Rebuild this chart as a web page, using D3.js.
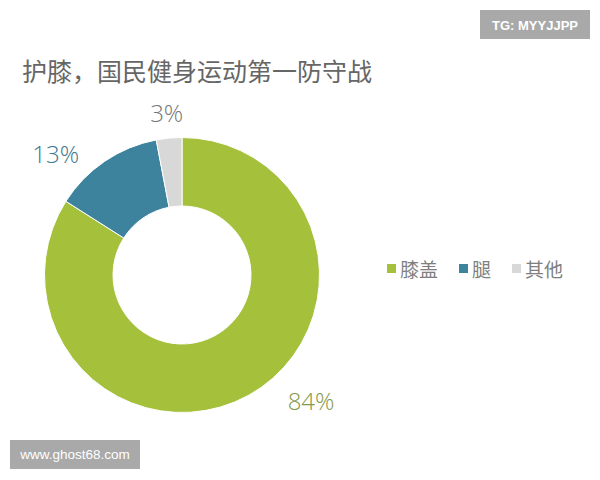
<!DOCTYPE html>
<html><head><meta charset="utf-8">
<script src="https://cdn.jsdelivr.net/npm/d3@7/dist/d3.min.js"></script>
<style>html,body{margin:0;padding:0;background:#fff;}svg{display:block;}</style>
</head><body>
<script>
const categories = ["膝盖", "腿", "其他"];
const values = [84, 13, 3];
const valueLabels = ["84%", "13%", "3%"];
const titleText = "护膝，国民健身运动第一防守战";
const watermarkTop = "TG: MYYJJPP";
const watermarkBottom = "www.ghost68.com";

const colors = ["#a5c03b", "#3d839e", "#d8d8d8"];
const labelColors = ["#84984a", "#41768d", "#777777"];
const labelAngleShift = [-17, -12, 0];   // degrees, layout tweak
const labelRadius = [180, 175, 163];

const W = 600, H = 480;
const cx = 182, cy = 275, R = 137.5, r0 = 69;
const cjk = "'Noto Sans CJK SC','Noto Sans',sans-serif";
const latin = "'Open Sans','Noto Sans',sans-serif";

const svg = d3.select("body").append("svg").attr("width", W).attr("height", H);
svg.append("rect").attr("width", W).attr("height", H).attr("fill", "#fff");

// title
svg.append("text").attr("x", 22).attr("y", 81)
  .attr("font-family", cjk).attr("font-size", 25).attr("fill", "#666666")
  .text(titleText);

// donut
const pie = d3.pie().sort(null).value(d => d)
  .startAngle(0).endAngle(2 * Math.PI);
const arcs = pie(values);
const arc = d3.arc().innerRadius(r0).outerRadius(R);
const g = svg.append("g").attr("transform", `translate(${cx},${cy})`);
g.selectAll("path").data(arcs).join("path")
  .attr("d", arc).attr("fill", (d, i) => colors[i])
  .attr("stroke", "#fff").attr("stroke-width", 1);

// labels
g.selectAll("text.lbl").data(arcs).join("text").attr("class", "lbl")
  .each(function (d, i) {
    const a = (d.startAngle + d.endAngle) / 2 + labelAngleShift[i] * Math.PI / 180;
    const rr = labelRadius[i];
    d3.select(this).attr("x", Math.sin(a) * rr).attr("y", -Math.cos(a) * rr);
  })
  .attr("text-anchor", "middle").attr("dominant-baseline", "central")
  .attr("font-family", latin).attr("font-size", 24).attr("font-weight", 300)
  .attr("fill", (d, i) => labelColors[i])
  .text((d, i) => valueLabels[i]);

// legend
const legendX = [387, 459, 512];
const lg = svg.append("g");
categories.forEach((c, i) => {
  lg.append("rect").attr("x", legendX[i]).attr("y", 264).attr("width", 9).attr("height", 9)
    .attr("fill", colors[i]);
  lg.append("text").attr("x", legendX[i] + 13).attr("y", 276.5)
    .attr("font-family", cjk).attr("font-size", 19).attr("fill", "#7f7f7f")
    .text(c);
});

// watermarks
svg.append("rect").attr("x", 480).attr("y", 10).attr("width", 110).attr("height", 29).attr("fill", "#a9a9a9");
svg.append("text").attr("x", 535).attr("y", 29.5).attr("text-anchor", "middle")
  .attr("font-family", "'Liberation Sans',Arial,sans-serif").attr("font-size", 13).attr("font-weight", "bold")
  .attr("fill", "#fff").text(watermarkTop);
svg.append("rect").attr("x", 10).attr("y", 440).attr("width", 130).attr("height", 29).attr("fill", "#a9a9a9");
svg.append("text").attr("x", 75).attr("y", 459).attr("text-anchor", "middle")
  .attr("font-family", "'Liberation Sans',Arial,sans-serif").attr("font-size", 13.5)
  .attr("fill", "#fff").text(watermarkBottom);
</script>
</body></html>
